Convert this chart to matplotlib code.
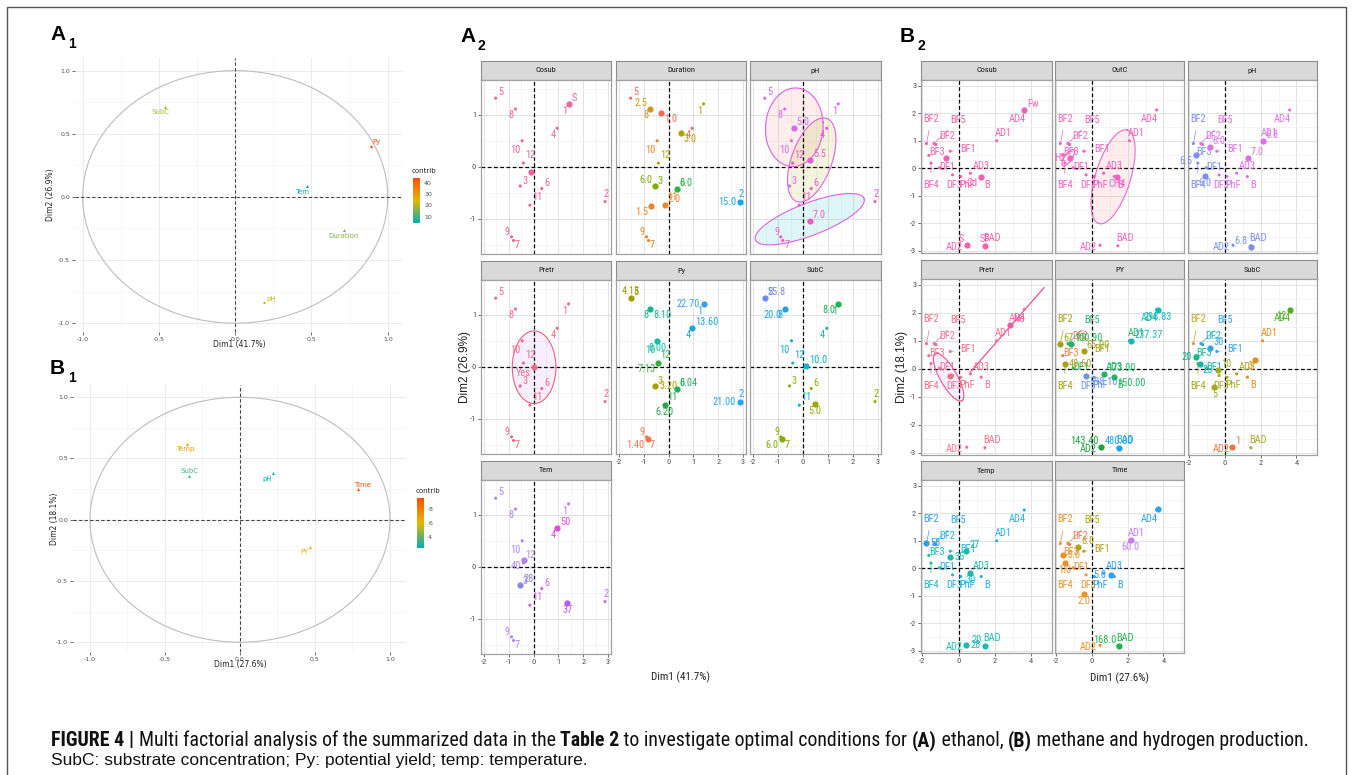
#!/usr/bin/env python3

import os
import numpy as np
import matplotlib
matplotlib.use("Agg")
import matplotlib.pyplot as plt
from matplotlib import font_manager
from matplotlib.font_manager import FontProperties
from matplotlib.colors import LinearSegmentedColormap, Normalize

plt.rcParams["axes.unicode_minus"] = False


### fonts: look for a narrow face, fall back to Liberation Sans
def find_font(bold):
    files = [f.fname for f in font_manager.fontManager.ttflist]
    for key in ["LiberationSansNarrow", "RobotoCondensed", "DejaVuSansCondensed",
                "OpenSansCondensed", "NotoSansDisplay-Condensed", "NotoSans-Condensed"]:
        for fn in files:
            b = os.path.basename(fn)
            if not b.startswith(key) or "Italic" in b or "Oblique" in b:
                continue
            if bold and "Bold" in b and "SemiBold" not in b and "ExtraBold" not in b:
                return fn
            if not bold and ("Regular" in b or b in (key + ".ttf",)):
                return fn
    return None


_nr = find_font(False)
_nb = find_font(True)
NARROW = FontProperties(fname=_nr) if _nr else FontProperties(family="Liberation Sans")
NARROW_B = FontProperties(fname=_nb) if _nb else FontProperties(family="Liberation Sans", weight="bold")
SANS = "Liberation Sans"

### A1: variable correlation circle (ethanol)
a1_names = ["SubC", "Py", "Tem", "Duration", "pH"]
a1_x = [-0.46, 0.89, 0.47, 0.71, 0.19]
a1_y = [0.71, 0.40, 0.09, -0.26, -0.83]
a1_contrib = [19.0, 44.1, 4.4, 16.0, 22.0]
a1_ticks = [10, 20, 30, 40]

### B1: variable correlation circle (methane / hydrogen)
b1_names = ["Temp", "SubC", "pH", "Time", "PY"]
b1_x = [-0.35, -0.34, 0.22, 0.79, 0.47]
b1_y = [0.62, 0.36, 0.38, 0.25, -0.22]
b1_contrib = [7.0, 3.6, 2.5, 9.6, 6.0]
b1_ticks = [4, 6, 8]

### A2: individuals (ethanol)
a2_ids = [str(i) for i in range(1, 13)]
a2_x = [1.41, 2.88, -0.54, 0.95, -1.53, 0.33, -0.81, -0.73, -0.89, -0.46, -0.15, -0.41]
a2_y = [1.21, -0.67, -0.37, 0.74, 1.32, -0.42, -1.42, 1.11, -1.35, 0.50, -0.74, 0.07]

# colours used by the category levels
PK = "#F0649E"; RD = "#F46A5E"; OR = "#E8862A"; BR = "#C99A1A"; OL = "#B0A100"
GN1 = "#7CAE00"; GN2 = "#2DB54A"; CY = "#1AA8E0"
PV = "#D46AEE"; PM = "#E45CD8"; PP = "#EE5CC0"; PR = "#F06A82"
BL1 = "#3C9EEA"; BL2 = "#22A8E8"; BL3 = "#18A8D8"; OL2 = "#A8A000"; OL3 = "#9E9E00"
GN = "#21B062"; GN3 = "#2AA845"; GN4 = "#38B040"; ORR = "#F07850"; TG = "#12B890"; TL = "#10BFA8"
GN5 = "#22B04E"; OL4 = "#9AAA00"; TL2 = "#14B89E"; BV = "#6B8CF2"; YG = "#86AC00"; BL4 = "#22A2E2"; CY2 = "#12B0CC"
VI2 = "#C074F0"; BV2 = "#8A84F2"; MG2 = "#E24CDE"; VI3 = "#B084F2"; MG3 = "#D264E6"; PU = "#B85CE8"

a2_cosub_col = [PK] * 12
a2_cosub_cen = [("S", 1.41, 1.21, PK), ("", -0.12, -0.11, PK)]
a2_cosub_side = ["ur", ""]

a2_dur_col = [OL, CY, GN1, RD, RD, GN2, OR, BR, OR, OR, OR, OL]
a2_dur_cen = [("1.0", -0.29, 1.03, RD), ("2.5", -0.73, 1.11, BR), ("3.0", 0.50, 0.64, OL),
              ("6.0", -0.54, -0.37, GN1), ("8.0", 0.33, -0.42, GN2), ("2.0", -0.15, -0.74, OR),
              ("1.5", -0.72, -0.76, OR), ("15.0", 2.88, -0.67, CY)]
a2_dur_side = ["dr", "ul", "dr", "ul", "ur", "ur", "dl", "l"]

a2_ph_col = [PV, PP, PV, PM, PV, PM, PP, PV, PP, PV, PP, PM]
a2_ph_cen = [("5.0", -0.37, 0.75, PV), ("5.5", 0.29, 0.13, PM), ("7.0", 0.26, -1.04, PP)]
a2_ph_side = ["ur", "ur", "ur"]
a2_ph_ell = [(-0.35, 0.76, 1.15, 0.10, -0.10, 0.75, "#F8766D"),
             (0.35, 0.13, 0.60, 0.80, 0.76, -0.13, "#A3A500"),
             (0.27, -1.01, 2.17, 0.40, -0.24, 0.29, "#00BFC4")]

a2_pretr_col = [PR] * 12
a2_pretr_cen = [("Yes", 0.0, 0.0, PR)]
a2_pretr_side = ["dl"]
a2_pretr_ell = [(0.02, -0.01, 0.88, 0.0, 0.0, 0.70, "#C77CFF")]

a2_py_col = [BL1, BL2, OL2, BL3, OL3, GN, ORR, TG, ORR, TL, GN3, GN4]
a2_py_cen = [("22.70", 1.41, 1.21, BL1), ("21.00", 2.88, -0.67, BL2), ("3.20", -0.54, -0.37, OL2),
             ("13.60", 0.95, 0.74, BL3), ("4.13", -1.53, 1.32, OL3), ("8.04", 0.33, -0.42, GN),
             ("1.40", -0.85, -1.385, ORR), ("8.10", -0.73, 1.11, TG), ("8.00", -0.46, 0.50, TL),
             ("6.20", -0.15, -0.74, GN3), ("7.13", -0.41, 0.07, GN4)]
a2_py_side = ["l", "l", "r", "ur", "u", "ur", "dl", "dr", "d", "d", "dl"]

a2_subc_col = [GN5, OL4, OL4, TL2, BV, OL4, YG, BL4, YG, CY2, CY2, CY2]
a2_subc_cen = [("25.8", -1.53, 1.32, BV), ("20.0", -0.73, 1.11, BL4), ("8.0", 1.41, 1.21, GN5),
               ("10.0", 0.13, 0.02, CY2), ("5.0", 0.48, -0.72, OL4), ("6.0", -0.85, -1.385, YG)]
a2_subc_side = ["ur", "dl", "dl", "ur", "d", "dl"]

a2_tem_col = [VI2, VI2, BV2, MG2, VI3, MG3, VI3, VI3, VI3, VI3, MG3, VI3]
a2_tem_cen = [("50", 0.95, 0.74, MG2), ("40", -0.39, 0.13, VI3), ("28", -0.54, -0.36, BV2),
              ("37", 1.36, -0.70, PU)]
a2_tem_side = ["ur", "dl", "ur", "d"]

### B2: individuals (methane / hydrogen)
b2_ids = ["BF1", "BF2", "BF3", "BF4", "BF5", "DF1", "DF2", "DF3", "AD1", "AD2",
          "AD3", "AD4", "PhF", "B", "BAD"]
b2_x = [-0.46, -1.77, -1.64, -1.52, -1.35, -1.05, -1.25, -0.33, 2.10, 0.45, 0.65, 3.62, 0.12, 1.25, 1.45]
b2_y = [0.62, 0.90, 0.47, 0.19, 0.90, 0.02, 0.86, -0.24, 1.00, -2.80, -0.18, 2.12, -0.30, -0.30, -2.82]

PKB = "#F062B0"; PKO = "#F062C4"; BLV = "#7B8EF2"; MGV = "#DE6FE8"; PR2 = "#F2708A"
OLP = "#A4A21A"; ORP = "#F08040"; GNP = "#22B466"; GNP2 = "#1EA040"; SLP = "#F07474"
BLP = "#6C94F0"; TLP = "#18B8B4"; BLP2 = "#1EA4EC"
BLS = "#34A4EA"; OYS = "#C9A227"; TLS = "#14B88E"; OLS = "#A4A822"; TLS2 = "#14B4AA"
TLS3 = "#18B0C4"; ORS = "#E0901E"; ORX = "#F07246"; GNS = "#48B020"
CYT = "#20B0DC"; CYB = "#2A9EE8"; TLT = "#1CBAAE"
OLT = "#B4A018"; ORT = "#E8922A"; SLT = "#F07466"; PUT = "#C67CF2"; BLT = "#2EA2EE"; GNT = "#22B24A"

b2_cosub_col = [PKB] * 15
b2_cosub_cen = [("Fw", 3.62, 2.12, PKB), ("", -0.69, 0.38, PKB), ("Cd", 1.23, -0.31, PKB),
                ("S", 0.45, -2.80, PKB), ("SF", 1.45, -2.82, PKB)]
b2_cosub_side = ["ur", "", "dl", "ul", "u"]

b2_outc_col = [PKO] * 15
b2_outc_cen = [("H2", -1.23, 0.36, PKO), ("CH4", 1.41, -0.33, PKO)]
b2_outc_side = ["l", "d"]
b2_outc_ell = [(1.18, -0.31, 0.80, 1.70, 0.94, -0.19, "#F8766D"),
               (-1.33, 0.38, 0.33, 0.28, 0.12, -0.12, "#F8766D")]

b2_ph_col = [MGV, BLV, BLV, BLV, MGV, BLV, MGV, MGV, MGV, BLV, MGV, MGV, MGV, MGV, BLV]
b2_ph_cen = [("6.0", -0.86, 0.78, MGV), ("6.5", -1.63, 0.48, BLV), ("6.0", -1.10, -0.28, BLV),
             ("6.8", 2.10, 1.00, MGV), ("7.0", 1.28, 0.36, MGV), ("6.8", 1.43, -2.85, BLV)]
b2_ph_side = ["ur", "dl", "d", "ur", "ur", "ul"]

b2_pretr_col = [PR2] * 15
b2_pretr_cen = [("No", 2.86, 1.56, "#F05CA0"), ("", -0.49, -0.24, PR2)]
b2_pretr_side = ["ur", ""]
b2_pretr_ell = [(-0.55, -0.30, 0.735, -0.84, 0.41, 0.15, "#C77CFF")]
b2_pretr_line_x = [0.64, 4.71]
b2_pretr_line_y = [-0.12, 2.90]

b2_py_col = [OLP, OLP, ORP, OLP, GNP, GNP, SLP, BLP, GNP, GNP2, GNP, TLP, BLP, GNP, BLP2]
b2_py_cen = [("67.10", -1.78, 0.90, OLP), ("100.90", -1.19, 0.87, GNP), ("48.60", -1.52, 0.18, OLP),
             ("65.00", -0.46, 0.62, OLP), ("598.10", -0.31, -0.24, BLP), ("173.00", 0.66, -0.18, GNP),
             ("150.00", 1.24, -0.30, GNP), ("237.37", 2.20, 0.99, TLP), ("298.83", 3.70, 2.10, TLP),
             ("143.40", 0.51, -2.78, GNP2), ("480.00", 1.52, -2.82, BLP2)]
b2_py_side = ["ur", "ur", "r", "ur", "dr", "ur", "dr", "ur", "d", "ul", "u"]

b2_subc_col = [BLS, OYS, TLS, OLS, BLS, TLS2, TLS3, OLS, ORS, ORX, OLS, GNS, OLS, ORS, OLS]
b2_subc_cen = [("20", -1.63, 0.44, TLS), ("30", -0.83, 0.76, BLS), ("25", -1.41, 0.18, TLS2),
               ("10", -0.40, -0.06, OLS), ("5", -0.59, -0.65, OLS), ("3", 1.70, 0.33, ORS),
               ("12", 3.62, 2.10, GNS), ("1", 0.42, -2.78, ORX)]
b2_subc_side = ["l", "ur", "dr", "ur", "d", "dl", "dl", "ur"]

b2_temp_col = [CYT, CYB, TLT, TLT, CYT, CYT, CYT, CYT, CYT, TLT, TLT, CYT, CYT, CYT, TLT]
b2_temp_cen = [("58", -1.77, 0.93, CYB), ("35", -0.46, 0.42, TLT), ("27", 0.42, 0.63, TLT),
               ("30", 0.64, -0.16, TLT), ("28", 0.42, -2.78, TLT), ("20", 1.43, -2.81, TLT)]
b2_temp_side = ["r", "r", "ur", "d", "r", "ul"]

b2_time_col = [OLT, ORT, ORT, ORT, OLT, ORT, SLT, ORT, PUT, ORT, BLT, BLT, BLT, BLT, GNT]
b2_time_cen = [("6.0", -0.77, 0.79, OLT), ("3.0", -1.60, 0.47, ORT), ("1.0", -1.52, 0.20, ORT),
               ("2.0", -0.42, -0.94, ORT), ("5.0", 1.04, -0.23, BLT), ("60.0", 2.17, 1.03, PUT),
               ("", 3.68, 2.14, BLT), ("168.0", 1.52, -2.81, GNT)]
b2_time_side = ["ur", "r", "d", "d", "l", "d", "", "ul"]

### label nudges (pixels) for the individuals
a2_nudge = [(-4, -7), (1, 8), (5, 5), (-4, -7), (5, 6), (5, 6), (4, -5), (-5, -6),
            (-4, 5), (-7, -9), (7, 8), (7, 8)]
b2_nudge = [(18, 2), (5, 25), (8, 3), (0, -22), (24, 24), (8, 1), (11, 9), (2, -10),
            (7, 8), (-12, -2), (11, 7), (-7, -9), (6, -8), (6, -8), (7, 8)]

SIDES = {"u": (0, 7, "center"), "d": (0, -7, "center"), "l": (-4, 0, "right"),
         "r": (4, 0, "left"), "ur": (3, 6, "left"), "ul": (-3, 6, "right"),
         "dr": (3, -6, "left"), "dl": (-3, -6, "right"), "": (3, 6, "left")}

W, H = 1354, 775
fig = plt.figure(figsize=(W / 100, H / 100), dpi=100)
cmap = LinearSegmentedColormap.from_list("contrib", ["#00AFBB", "#E7B800", "#FC4E07"])


def px_axes(x0, y0, x1, y1):
    return fig.add_axes([x0 / W, 1 - y1 / H, (x1 - x0) / W, (y1 - y0) / H])


def ftext(x, y, s, **kw):
    return fig.text(x / W, 1 - y / H, s, **kw)


### correlation circles
def corr_circle(rect, xs, ys, names, contrib, nudges, xlim, ylim, cbar, cticks):
    ax = px_axes(*rect)
    ax.set_facecolor("white")
    for sp in ax.spines.values():
        sp.set_visible(False)
    ax.set_xlim(*xlim)
    ax.set_ylim(*ylim)
    ax.set_xticks([-1, -0.5, 0, 0.5, 1])
    ax.set_yticks([-1, -0.5, 0, 0.5, 1])
    ax.set_xticks([-0.75, -0.25, 0.25, 0.75], minor=True)
    ax.set_yticks([-0.75, -0.25, 0.25, 0.75], minor=True)
    ax.set_xticklabels(["-1.0", "-0.5", "0.0", "0.5", "1.0"])
    ax.set_yticklabels(["-1.0", "-0.5", "0.0", "0.5", "1.0"])
    ax.grid(True, which="major", color="#EBEBEB", lw=0.7)
    ax.grid(True, which="minor", color="#F3F3F3", lw=0.5)
    ax.tick_params(which="major", labelsize=4.5, labelcolor="#4D4D4D", length=2,
                   width=0.5, color="#333333", pad=1.5)
    ax.tick_params(which="minor", length=0)
    ax.set_axisbelow(True)
    t = np.linspace(0, 2 * np.pi, 300)
    ax.plot(np.cos(t), np.sin(t), color="#BDBDBD", lw=0.8)
    ax.axhline(0, color="#444444", ls=(0, (3, 2)), lw=0.8)
    ax.axvline(0, color="#444444", ls=(0, (3, 2)), lw=0.8)
    norm = Normalize(min(contrib), max(contrib))
    for x, y, n, c, (dx, dy) in zip(xs, ys, names, contrib, nudges):
        col = cmap(norm(c))
        ax.scatter([x], [y], marker="^", s=5, color=col, linewidths=0, zorder=3)
        ax.annotate(n, (x, y), xytext=(dx, dy), textcoords="offset pixels",
                    ha="center", va="center", fontsize=5, color=col)
    cax = px_axes(*cbar)
    cax.imshow(np.linspace(1, 0, 200)[:, None], aspect="auto", cmap=cmap,
               extent=[0, 1, min(contrib), max(contrib)])
    cax.set_xticks([])
    cax.yaxis.tick_right()
    cax.set_yticks(cticks)
    cax.tick_params(labelsize=4.5, labelcolor="#4D4D4D", length=1.5, width=0.4,
                    color="white", pad=1.5)
    for sp in cax.spines.values():
        sp.set_visible(False)
    ftext(cbar[0] - 1, cbar[1] - 5, "contrib", fontsize=5, color="#222222", va="baseline")
    return ax


corr_circle((75, 58, 403, 332), a1_x, a1_y, a1_names, a1_contrib,
            [(-5, -5), (6, 4), (-5, -6), (0, -6), (7, 3)],
            (-1.05, 1.1), (-1.07, 1.1), (413, 178, 420, 223), a1_ticks)
ftext(239, 345, "Dim1 (41.7%)", fontsize=5.5, ha="center", va="center", color="#222222")
ftext(50, 195, "Dim2 (26.9%)", fontsize=5.5, ha="center", va="center", rotation=90, color="#222222")

corr_circle((73, 385, 405, 652), b1_x, b1_y, b1_names, b1_contrib,
            [(-2, -5), (1, 5), (-6, -6), (4, 4), (-6, -5)],
            (-1.113, 1.1), (-1.08, 1.1), (417, 498, 424, 548), b1_ticks)
ftext(240, 665, "Dim1 (27.6%)", fontsize=5.5, ha="center", va="center", color="#222222")
ftext(54, 519, "Dim2 (18.1%)", fontsize=5.5, ha="center", va="center", rotation=90, color="#222222")


### facet panels
def ellipse(ax, e, edge):
    cx, cy, ax_, ay, bx, by, fill = e
    t = np.linspace(0, 2 * np.pi, 200)
    ex = cx + ax_ * np.cos(t) + bx * np.sin(t)
    ey = cy + ay * np.cos(t) + by * np.sin(t)
    ax.fill(ex, ey, color=fill, alpha=0.13, lw=0, zorder=1)
    ax.plot(ex, ey, color=edge, lw=0.8, zorder=2)


def facet(rect, title, xs, ys, ids, cols, nudges, cen, sides, lim, ticks,
          showx, showy, ells=(), edge=None, line=None):
    x0, y0, x1, y1 = rect
    sax = px_axes(x0, y0 - 19, x1, y0)
    sax.set_facecolor("#D9D9D9")
    sax.set_xticks([])
    sax.set_yticks([])
    for sp in sax.spines.values():
        sp.set_color("#8C8C8C")
        sp.set_linewidth(0.8)
    sax.text(0.5, 0.5, title, ha="center", va="center", fontproperties=NARROW,
             fontsize=6, color="#1A1A1A", transform=sax.transAxes)

    ax = px_axes(x0, y0, x1, y1)
    xlim, ylim = lim
    xmaj, xmin, ymaj, ymin = ticks
    ax.set_xlim(*xlim)
    ax.set_ylim(*ylim)
    ax.set_xticks(xmaj)
    ax.set_xticks(xmin, minor=True)
    ax.set_yticks(ymaj)
    ax.set_yticks(ymin, minor=True)
    ax.grid(True, which="major", color="#E2E2E2", lw=0.7)
    ax.grid(True, which="minor", color="#F0F0F0", lw=0.5)
    ax.set_axisbelow(True)
    for sp in ax.spines.values():
        sp.set_color("#A0A0A0")
        sp.set_linewidth(0.9)
    ax.tick_params(which="major", labelsize=6, labelcolor="#4D4D4D", length=2,
                   width=0.5, color="#333333", pad=1.5, labelbottom=showx, labelleft=showy,
                   bottom=showx, left=showy)
    ax.tick_params(which="minor", length=0)
    for lab in ax.get_xticklabels() + ax.get_yticklabels():
        lab.set_fontproperties(NARROW)
        lab.set_fontsize(6)

    ax.axhline(0, color="black", ls=(0, (3, 2)), lw=0.9, zorder=2)
    ax.axvline(0, color="black", ls=(0, (3, 2)), lw=0.9, zorder=2)

    for e in ells:
        ellipse(ax, e, edge)
    if line is not None:
        ax.plot(line[0], line[1], color=edge, lw=0.9, zorder=2)

    ax.scatter(xs, ys, s=5, c=cols, linewidths=0, zorder=3)
    for x, y, n, c, (dx, dy) in zip(xs, ys, ids, cols, nudges):
        kw = dict(xytext=(dx, dy), textcoords="offset pixels", ha="center", va="center",
                  fontproperties=NARROW, fontsize=7.5, color=c)
        if np.hypot(dx, dy) > 14:
            kw["arrowprops"] = dict(arrowstyle="-", color=c, lw=0.5, shrinkA=3, shrinkB=1)
        ax.annotate(n, (x, y), **kw)

    for (lab, x, y, c), sd in zip(cen, sides):
        ax.scatter([x], [y], s=20, color=c, linewidths=0, zorder=4)
        if lab:
            dx, dy, ha = SIDES[sd]
            ax.annotate(lab, (x, y), xytext=(dx, dy), textcoords="offset pixels",
                        ha=ha, va="center", fontproperties=NARROW, fontsize=7.5, color=c)
    return ax


# A2 grid
a2_cols = [(481, 611), (616, 746), (750, 881)]
a2_rows = [(80, 254), (280, 454), (480, 654)]
a2_lim = ((-2.12, 3.12), (-1.68, 1.67))
a2_ticks = ([-2, -1, 0, 1, 2, 3], [-1.5, -0.5, 0.5, 1.5, 2.5],
            [-1, 0, 1], [-1.5, -0.5, 0.5, 1.5])
a2_panels = [
    ("Cosub", a2_cosub_col, a2_cosub_cen, a2_cosub_side, (), None),
    ("Duration", a2_dur_col, a2_dur_cen, a2_dur_side, (), None),
    ("pH", a2_ph_col, a2_ph_cen, a2_ph_side, a2_ph_ell, "#E060E0"),
    ("Pretr", a2_pretr_col, a2_pretr_cen, a2_pretr_side, a2_pretr_ell, "#F0607A"),
    ("Py", a2_py_col, a2_py_cen, a2_py_side, (), None),
    ("SubC", a2_subc_col, a2_subc_cen, a2_subc_side, (), None),
    ("Tem", a2_tem_col, a2_tem_cen, a2_tem_side, (), None),
]
for i, (title, cols, cen, sides, ells, edge) in enumerate(a2_panels):
    r, c = divmod(i, 3)
    showx = (r == 2) or (r == 1 and c > 0)
    facet((a2_cols[c][0], a2_rows[r][0], a2_cols[c][1], a2_rows[r][1]), title,
          a2_x, a2_y, a2_ids, cols, a2_nudge, cen, sides, a2_lim, a2_ticks,
          showx, c == 0, ells, edge)
ftext(465, 367, "Dim2 (26.9%)", fontsize=8.5, ha="center", va="center", rotation=90,
      color="#222222", family=SANS)
ftext(680, 677, "Dim1 (41.7%)", fontproperties=NARROW, fontsize=8, ha="center",
      va="center", color="#222222")

# B2 grid
b2_cols = [(921, 1052), (1055, 1184), (1188, 1317)]
b2_rows = [(80, 253), (279, 455), (480, 653)]
b2_lim = ((-2.07, 5.15), (-3.08, 3.21))
b2_ticks = ([-2, 0, 2, 4], [-1, 1, 3, 5], [-3, -2, -1, 0, 1, 2, 3],
            [-2.5, -1.5, -0.5, 0.5, 1.5, 2.5])
b2_panels = [
    ("Cosub", b2_cosub_col, b2_cosub_cen, b2_cosub_side, (), None, None),
    ("OutC", b2_outc_col, b2_outc_cen, b2_outc_side, b2_outc_ell, "#E868D0", None),
    ("pH", b2_ph_col, b2_ph_cen, b2_ph_side, (), None, None),
    ("Pretr", b2_pretr_col, b2_pretr_cen, b2_pretr_side, b2_pretr_ell, "#EE4C9C",
     (b2_pretr_line_x, b2_pretr_line_y)),
    ("PY", b2_py_col, b2_py_cen, b2_py_side, (), None, None),
    ("SubC", b2_subc_col, b2_subc_cen, b2_subc_side, (), None, None),
    ("Temp", b2_temp_col, b2_temp_cen, b2_temp_side, (), None, None),
    ("Time", b2_time_col, b2_time_cen, b2_time_side, (), None, None),
]
for i, (title, cols, cen, sides, ells, edge, line) in enumerate(b2_panels):
    r, c = divmod(i, 3)
    showx = (r == 2) or (r == 1 and c == 2)
    facet((b2_cols[c][0], b2_rows[r][0], b2_cols[c][1], b2_rows[r][1]), title,
          b2_x, b2_y, b2_ids, cols, b2_nudge, cen, sides, b2_lim, b2_ticks,
          showx, c == 0, ells, edge, line)
ftext(902, 367, "Dim2 (18.1%)", fontsize=8.5, ha="center", va="center", rotation=90,
      color="#222222", family=SANS)
ftext(1120, 678, "Dim1 (27.6%)", fontproperties=NARROW, fontsize=8, ha="center",
      va="center", color="#222222")

### panel letters
for letter, sub, x, y in [("A", "1", 50, 40), ("B", "1", 50, 374), ("A", "2", 460, 42), ("B", "2", 900, 42)]:
    ftext(x, y, letter, fontsize=15, fontweight="bold", family=SANS, va="baseline")
    ftext(x + 18, y + 8, sub, fontsize=10, fontweight="bold", family=SANS, va="baseline")

### outer frame
fig.add_artist(plt.Line2D([7 / W, 7 / W, 1346 / W, 1346 / W], [0, 1 - 7 / H, 1 - 7 / H, 0],
                          color="#555555", lw=1.0, transform=fig.transFigure))

### caption
renderer = fig.canvas.get_renderer()


def rich_line(parts, x, y, target, fs):
    widths = []
    for s, fp in parts:
        t = ftext(0, 0, s, fontproperties=fp, fontsize=fs)
        widths.append(t.get_window_extent(renderer).width)
        t.remove()
    fs = fs * target / sum(widths)
    for s, fp in parts:
        t = ftext(x, y, s, fontproperties=fp, fontsize=fs, va="baseline", color="#111111")
        x += t.get_window_extent(renderer).width


rich_line([("FIGURE 4 | ", NARROW_B),
           ("Multi factorial analysis of the summarized data in the ", NARROW),
           ("Table 2", NARROW_B), (" to investigate optimal conditions for ", NARROW),
           ("(A)", NARROW_B), (" ethanol, ", NARROW), ("(B)", NARROW_B),
           (" methane and hydrogen production.", NARROW)],
          51, 746, 1251, 13)
rich_line([("SubC: substrate concentration; Py: potential yield; temp: temperature.",
            FontProperties(family=SANS))], 51, 765, 536, 11.5)

fig.savefig("out.png", dpi=100)
